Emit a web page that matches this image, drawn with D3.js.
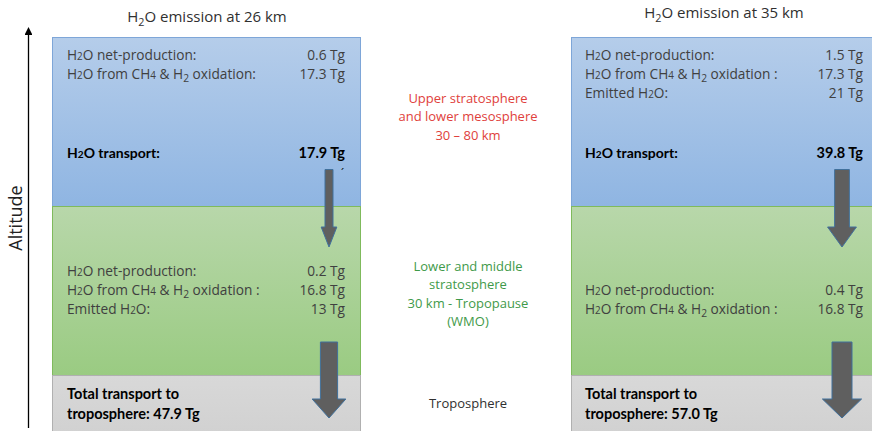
<!DOCTYPE html>
<html>
<head>
<meta charset="utf-8">
<script src="https://cdn.jsdelivr.net/npm/d3@7"></script>
<style>
  html, body { margin: 0; padding: 0; background: #fff; }
  svg { display: block; }
</style>
</head>
<body>
<svg id="chart" width="872" height="431"></svg>
<script>
// ---------------- data ----------------
const emissionAltitudes = [26, 35];                 // km, one per scenario
const upperNetProduction = [0.6, 1.5];              // Tg
const upperOxidation = [17.3, 17.3];                // Tg
const upperEmitted = [null, 21];                    // Tg
const upperTransport = [17.9, 39.8];                // Tg
const lowerNetProduction = [0.2, 0.4];              // Tg
const lowerOxidation = [16.8, 16.8];                // Tg
const lowerEmitted = [13, null];                    // Tg
const totalTransport = [47.9, 57.0];                // Tg
const layerKeys = ["upper", "lower", "tropo"];
const layerLabels = [
  ["Upper stratosphere", "and lower mesosphere", "30 \u2013 80 km"],
  ["Lower and middle", "stratosphere", "30 km - Tropopause", "(WMO)"],
  ["Troposphere"]
];

// ---------------- layout / style ----------------
const svg = d3.select("#chart");
const fontReg = "'Open Sans', 'DejaVu Sans', sans-serif";
const fontBold = "Lato, 'Open Sans', sans-serif";
const textColor = "#404040";

// vertical scale: layer boundaries (index 0 = top of upper layer ... 3 = bottom of troposphere)
const yLayer = d3.scaleLinear().domain([0, 1, 2, 2.325]).range([37, 206, 375, 430]);

// panel geometry (style constants)
const panels = [
  { x0: 52, x1: 361, textX: 67, valueX: 345, arrowX: 329, titleX: 207, titleY: 22, greenY: [276, 295, 314] },
  { x0: 571, x1: 880, textX: 585, valueX: 863, arrowX: 842, titleX: 724, titleY: 18, greenY: [295, 314] }
];

const layerFill = ["url(#gBlue)", "url(#gGreen)", "url(#gGray)"];
const layerStroke = ["#7ea6d8", "#7fba5c", "#b0b0b0"];

// gradients
const defs = svg.append("defs");
function grad(id, c0, c1) {
  const g = defs.append("linearGradient").attr("id", id).attr("x1", 0).attr("y1", 0).attr("x2", 0).attr("y2", 1);
  g.append("stop").attr("offset", "0%").attr("stop-color", c0);
  g.append("stop").attr("offset", "100%").attr("stop-color", c1);
}
grad("gBlue", "#b5cdea", "#8fb5e2");
grad("gGreen", "#b8d7aa", "#9acb82");
grad("gGray", "#d8d8d8", "#c4c4c4");

// arrow width scale
const wScale = d3.scaleLinear().domain([17.9, 57.0]).range([8, 20]);

// ---------------- altitude axis ----------------
defs.append("marker")
  .attr("id", "arrowHead").attr("viewBox", "0 0 10 10").attr("refX", 5).attr("refY", 5)
  .attr("markerWidth", 6).attr("markerHeight", 6).attr("orient", "auto")
  .append("path").attr("d", "M0,0 L10,5 L0,10 z").attr("fill", "#000");
svg.append("line")
  .attr("x1", 28.5).attr("x2", 28.5).attr("y1", 428).attr("y2", 31)
  .attr("stroke", "#000").attr("stroke-width", 1.3)
  .attr("marker-end", "url(#arrowHead)");
svg.append("text")
  .attr("transform", "translate(22,218) rotate(-90)")
  .attr("text-anchor", "middle")
  .attr("font-family", fontReg).attr("font-size", 18).attr("fill", "#222")
  .text("Altitude");

// ---------------- panels ----------------
function h2o(sel, after) {
  sel.append("tspan").text("H");
  sel.append("tspan").attr("font-size", "0.72em").text("2");
  sel.append("tspan").text("O" + after);
}
function oxLine(sel, colon) {
  sel.append("tspan").text("H");
  sel.append("tspan").attr("font-size", "0.72em").text("2");
  sel.append("tspan").text("O from CH");
  sel.append("tspan").attr("font-size", "0.72em").text("4");
  sel.append("tspan").text(" & H");
  sel.append("tspan").attr("font-size", "0.75em").attr("dy", 3).text("2");
  sel.append("tspan").attr("dy", -3).text(" oxidation" + colon);
}

panels.forEach((p, i) => {
  const g = svg.append("g");

  // layer rectangles
  layerKeys.forEach((k, li) => {
    g.append("rect")
      .attr("x", p.x0 + 0.5).attr("y", yLayer(li) + 0.5)
      .attr("width", p.x1 - p.x0 - 1).attr("height", yLayer(li + 1) - yLayer(li))
      .attr("fill", layerFill[li]).attr("stroke", layerStroke[li]).attr("stroke-width", 1);
  });

  // title
  const t = g.append("text")
    .attr("x", p.titleX).attr("y", p.titleY)
    .attr("text-anchor", "middle")
    .attr("font-family", fontReg).attr("font-size", 15).attr("fill", "#303030");
  t.append("tspan").text("H");
  t.append("tspan").attr("font-size", "0.72em").attr("dy", 4).text("2");
  t.append("tspan").attr("dy", -4).text("O emission at " + emissionAltitudes[i] + " km");

  const fs = 13.7;
  function row(y, labelFn, value, bold) {
    const lt = g.append("text").attr("x", p.textX).attr("y", y)
      .attr("font-family", bold ? fontBold : fontReg).attr("font-weight", bold ? 700 : 400)
      .attr("font-size", bold ? 14 : fs).attr("fill", bold ? "#000" : textColor);
    labelFn(lt);
    g.append("text").attr("x", p.valueX).attr("y", y).attr("text-anchor", "end")
      .attr("font-family", bold ? fontBold : fontReg).attr("font-weight", bold ? 700 : 400)
      .attr("font-size", bold ? 14.5 : fs).attr("fill", bold ? "#000" : textColor)
      .text(value + " Tg");
  }

  // upper layer rows
  const upperRows = [];
  upperRows.push([s => h2o(s, " net-production:"), upperNetProduction[i]]);
  upperRows.push([s => oxLine(s, i === 0 ? ":" : " :"), upperOxidation[i]]);
  if (upperEmitted[i] != null) upperRows.push([s => { s.append("tspan").text("Emitted "); h2o(s, ":"); }, upperEmitted[i]]);
  upperRows.forEach((r, ri) => row(60 + ri * 19, r[0], r[1], false));
  row(158, s => h2o(s, " transport:"), d3.format(".1f")(upperTransport[i]), true);
  if (i === 0) {
    g.append("text").attr("x", p.valueX - 4).attr("y", 177).attr("font-family", fontReg)
      .attr("font-size", 11).attr("fill", "#000").text("\u00b4");
  }

  // lower layer rows
  const lowerRows = [];
  lowerRows.push([s => h2o(s, " net-production:"), lowerNetProduction[i]]);
  lowerRows.push([s => oxLine(s, " :"), lowerOxidation[i]]);
  if (lowerEmitted[i] != null) lowerRows.push([s => { s.append("tspan").text("Emitted "); h2o(s, ":"); }, lowerEmitted[i]]);
  lowerRows.forEach((r, ri) => row(p.greenY[ri], r[0], r[1], false));

  // troposphere text
  const tt = g.append("text").attr("font-family", fontBold).attr("font-weight", 700)
    .attr("font-size", 14.5).attr("fill", "#000");
  tt.append("tspan").attr("x", p.textX).attr("y", 399).text("Total transport to");
  tt.append("tspan").attr("x", p.textX).attr("y", 419).text("troposphere: " + d3.format(".1f")(totalTransport[i]) + " Tg");

  // arrows
  function arrow(cx, yTop, yHeadTop, yTip, value) {
    const w = wScale(value), hw = w * 0.98;
    const path = d3.path();
    path.moveTo(cx - w / 2, yTop);
    path.lineTo(cx + w / 2, yTop);
    path.lineTo(cx + w / 2, yHeadTop);
    path.lineTo(cx + hw, yHeadTop);
    path.lineTo(cx, yTip);
    path.lineTo(cx - hw, yHeadTop);
    path.lineTo(cx - w / 2, yHeadTop);
    path.closePath();
    g.append("path").attr("d", path.toString())
      .attr("fill", "#5f5f5f").attr("stroke", "#41719c").attr("stroke-width", 1);
  }
  arrow(p.arrowX, 169.5, 227, 247, upperTransport[i]);
  arrow(p.arrowX, 342, 399, 418, totalTransport[i]);
});

// ---------------- middle layer labels ----------------
const midX = 468;
const labelColors = ["#e0413c", "#3f9a4a", "#303030"];
const labelStartY = [103, 271, 408];
layerLabels.forEach((lines, li) => {
  const t = svg.append("text").attr("text-anchor", "middle")
    .attr("font-family", fontReg).attr("font-size", 13).attr("fill", labelColors[li]);
  lines.forEach((ln, k) => {
    t.append("tspan").attr("x", midX).attr("y", labelStartY[li] + k * 18.3).text(ln);
  });
});
</script>
</body>
</html>
